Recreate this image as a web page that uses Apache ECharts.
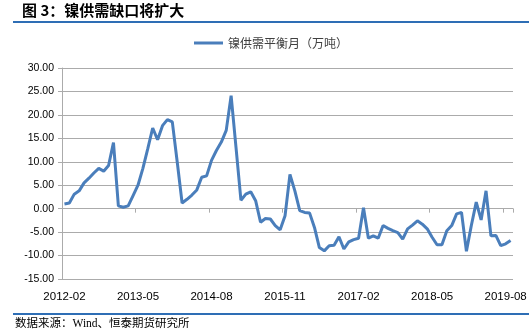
<!DOCTYPE html>
<html>
<head>
<meta charset="utf-8">
<script src="https://cdn.jsdelivr.net/npm/echarts/dist/echarts.min.js"></script>
<style>
html,body{margin:0;padding:0;background:#fff;}
#chart{width:529px;height:335px;}
</style>
</head>
<body>
<div id="chart"></div>
<script>
var categories = [
 '2012-02','2012-03','2012-04','2012-05','2012-06','2012-07','2012-08','2012-09','2012-10','2012-11','2012-12',
 '2013-01','2013-02','2013-03','2013-04','2013-05','2013-06','2013-07','2013-08','2013-09','2013-10','2013-11','2013-12',
 '2014-01','2014-02','2014-03','2014-04','2014-05','2014-06','2014-07','2014-08','2014-09','2014-10','2014-11','2014-12',
 '2015-01','2015-02','2015-03','2015-04','2015-05','2015-06','2015-07','2015-08','2015-09','2015-10','2015-11','2015-12',
 '2016-01','2016-02','2016-03','2016-04','2016-05','2016-06','2016-07','2016-08','2016-09','2016-10','2016-11','2016-12',
 '2017-01','2017-02','2017-03','2017-04','2017-05','2017-06','2017-07','2017-08','2017-09','2017-10','2017-11','2017-12',
 '2018-01','2018-02','2018-03','2018-04','2018-05','2018-06','2018-07','2018-08','2018-09','2018-10','2018-11','2018-12',
 '2019-01','2019-02','2019-03','2019-04','2019-05','2019-06','2019-07','2019-08','2019-09'
];
var balance = [
 1.0, 1.2, 3.1, 3.8, 5.5, 6.5, 7.6, 8.6, 8.0, 9.2, 14.1,
 0.6, 0.3, 0.6, 2.8, 5.0, 8.6, 12.8, 17.2, 14.7, 17.7, 19.0, 18.5,
 10.0, 1.2, 2.0, 2.9, 4.0, 6.7, 7.0, 10.3, 12.4, 14.2, 16.7, 24.1,
 13.0, 1.8, 3.1, 3.6, 1.7, -2.9, -2.1, -2.2, -3.6, -4.5, -1.5, 7.3,
 3.8, -0.4, -0.8, -0.9, -4.0, -8.3, -9.0, -7.9, -7.8, -6.0, -8.6, -7.1,
 -6.6, -6.3, 0.2, -6.3, -5.8, -6.3, -3.6, -4.2, -4.7, -5.1, -6.5, -4.3,
 -3.5, -2.6, -3.3, -4.3, -6.1, -7.7, -7.7, -4.7, -3.6, -1.1, -0.8, -9.1,
 -3.6, 1.4, -2.4, 3.8, -5.8, -5.7, -7.9, -7.5, -6.8
];
var seriesName = '镍供需平衡月（万吨）';
var titleText = '图 3：镍供需缺口将扩大';
var sourceText = '数据来源：Wind、恒泰期货研究所';
var yMin = -15, yMax = 30, yStep = 5;

var chart = echarts.init(document.getElementById('chart'), null, {renderer: 'canvas'});
var lineColor = '#4a7ebb';
var ruleColor = '#2e6eb5';
var gridColor = '#ababab';
chart.setOption({
  animation: false,
  backgroundColor: '#ffffff',
  graphic: [
    {type: 'text', left: 22, top: 3, style: {text: titleText, fontSize: 15, fontWeight: 'bold', fill: '#000', fontFamily: 'Noto Sans CJK SC'}},
    {type: 'line', shape: {x1: 13, y1: 22, x2: 529, y2: 22}, style: {stroke: ruleColor, lineWidth: 2}},
    {type: 'line', shape: {x1: 13, y1: 314, x2: 529, y2: 314}, style: {stroke: ruleColor, lineWidth: 2}},
    {type: 'text', left: 15, top: 318, style: {text: sourceText, fontSize: 11.5, fill: '#000', fontFamily: 'Liberation Serif, Noto Sans CJK SC'}}
  ],
  legend: {
    top: 32, left: 189,
    icon: 'rect', itemWidth: 29, itemHeight: 3, itemGap: 10,
    textStyle: {fontSize: 12, color: '#404040', fontFamily: 'Noto Sans CJK SC'},
    data: [seriesName]
  },
  grid: {left: 62, right: 16, top: 68, bottom: 56, containLabel: false, outerBoundsMode: 'none'},
  xAxis: [
    {
      type: 'category', data: categories, position: 'bottom', boundaryGap: true,
      axisLine: {show: false, onZero: false},
      axisTick: {show: false},
      axisLabel: {interval: 14, margin: 12, fontSize: 11.5, color: '#000', fontFamily: 'Liberation Sans'},
      splitLine: {show: false}
    },
    {
      type: 'category', data: categories, position: 'bottom', boundaryGap: true,
      axisLine: {show: true, onZero: true, lineStyle: {color: gridColor, width: 1}},
      axisTick: {show: true, interval: 14, length: 4, lineStyle: {color: gridColor}},
      axisLabel: {show: false},
      splitLine: {show: false}
    }
  ],
  yAxis: {
    type: 'value', min: yMin, max: yMax, interval: yStep,
    axisLine: {show: true, lineStyle: {color: gridColor}},
    axisTick: {show: true, length: 4, lineStyle: {color: gridColor}},
    axisLabel: {margin: 8, fontSize: 10.5, color: '#000', fontFamily: 'Liberation Sans',
      formatter: function (v) { return v.toFixed(2); }},
    splitLine: {show: true, lineStyle: {color: gridColor, width: 1}}
  },
  series: [{
    name: seriesName, type: 'line', xAxisIndex: 0, data: balance,
    symbol: 'none', smooth: false,
    lineStyle: {color: lineColor, width: 3},
    itemStyle: {color: lineColor}
  }]
});
</script>
</body>
</html>
